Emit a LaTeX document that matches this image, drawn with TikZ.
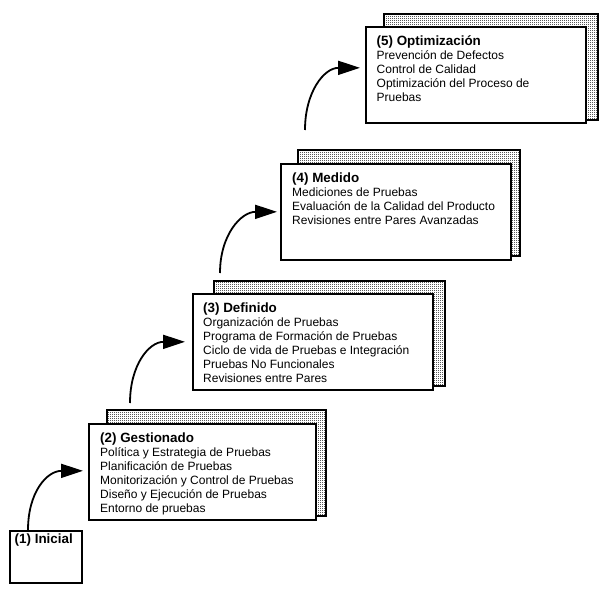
\documentclass[tikz,border=0pt]{standalone}
\usepackage{fontspec}
\setmainfont{Liberation Sans}
\usetikzlibrary{patterns,arrows.meta,calc}
\pgfdeclarepatternformonly{finedots}{\pgfqpoint{-0.1pt}{-0.1pt}}{\pgfqpoint{2.1pt}{2.1pt}}{\pgfqpoint{2pt}{2pt}}{%
  \pgfpathrectangle{\pgfqpoint{0pt}{0pt}}{\pgfqpoint{1pt}{1pt}}\pgfusepath{fill}}
\begin{document}
\begin{tikzpicture}[x=1pt,y=-1pt,
  shadowbox/.style={draw=black, line width=1.7pt, pattern=finedots, pattern color=black!65, anchor=north west, inner sep=0pt},
  frontbox/.style={draw=black, line width=1.7pt, fill=white, anchor=north west, inner sep=0pt},
  ttl/.style={anchor=base west, inner sep=0pt, font=\fontsize{13.4}{14}\selectfont\bfseries},
  body/.style={anchor=north west, inner sep=0pt, align=left, font=\fontsize{12}{14}\selectfont},
  arr/.style={line width=1.8pt, -{Triangle[length=22pt,width=14pt]}}
]
\useasboundingbox (0,0) rectangle (603,591);

% shadows
\node[shadowbox, minimum width=214pt, minimum height=106pt] (s5) at (383,13) {};
\node[shadowbox, minimum width=222pt, minimum height=106pt] (s4) at (297,149) {};
\node[shadowbox, minimum width=231pt, minimum height=105pt] (s3) at (213,280) {};
\node[shadowbox, minimum width=219pt, minimum height=106pt] (s2) at (106,409) {};

% front boxes
\node[frontbox, minimum width=220pt, minimum height=96pt] (b5) at (365,26) {};
\node[frontbox, minimum width=230pt, minimum height=96pt] (b4) at (280,163) {};
\node[frontbox, minimum width=240pt, minimum height=96pt] (b3) at (192,293) {};
\node[frontbox, minimum width=227pt, minimum height=96pt] (b2) at (88,423) {};
\node[frontbox, minimum width=72pt, minimum height=52pt] (b1) at (9,530) {};

% titles
\node[ttl] (t5) at ($(b5.north west)+(11.5,19.5)$) {(5) Optimización};
\node[ttl] (t4) at ($(b4.north west)+(12,19.5)$) {(4) Medido};
\node[ttl] (t3) at ($(b3.north west)+(11,19)$) {(3) Definido};
\node[ttl] (t2) at ($(b2.north west)+(12,19)$) {(2) Gestionado};
\node[ttl] (t1) at ($(b1.north west)+(5.5,13.5)$) {(1) Inicial};

% bodies
\node[body] (d5) at ($(t5.base west)+(0,4)$) {\rule{0pt}{10pt}Prevención de Defectos\\Control de Calidad\\Optimización del Proceso de\\Pruebas};
\node[body] (d4) at ($(t4.base west)+(0,4)$) {\rule{0pt}{10pt}Mediciones de Pruebas\\Evaluación de la Calidad del Producto\\Revisiones entre Pares Avanzadas};
\node[body] (d3) at ($(t3.base west)+(0,4)$) {\rule{0pt}{10pt}Organización de Pruebas\\Programa de Formación de Pruebas\\Ciclo de vida de Pruebas e Integración\\Pruebas No Funcionales\\Revisiones entre Pares};
\node[body] (d2) at ($(t2.base west)+(0,4)$) {\rule{0pt}{10pt}Política y Estrategia de Pruebas\\Planificación de Pruebas\\Monitorización y Control de Pruebas\\Diseño y Ejecución de Pruebas\\Entorno de pruebas};

% arrows
\draw[arr] ($(b1.north west)+(19,0)$) .. controls +(0,-38) and +(-36,0) .. ($(b2.west)+(-5,-1)$);
\draw[arr] ($(b2.north west)+(42,-20)$) .. controls +(0,-38) and +(-36,0) .. ($(b3.west)+(-7,0)$);
\draw[arr] ($(b3.north west)+(28,-20)$) .. controls +(0,-38) and +(-36,0) .. ($(b4.west)+(-3,0)$);
\draw[arr] ($(b4.north west)+(25,-33)$) .. controls +(0,-38) and +(-36,0) .. ($(b5.west)+(-5,-7)$);
\end{tikzpicture}
\end{document}
